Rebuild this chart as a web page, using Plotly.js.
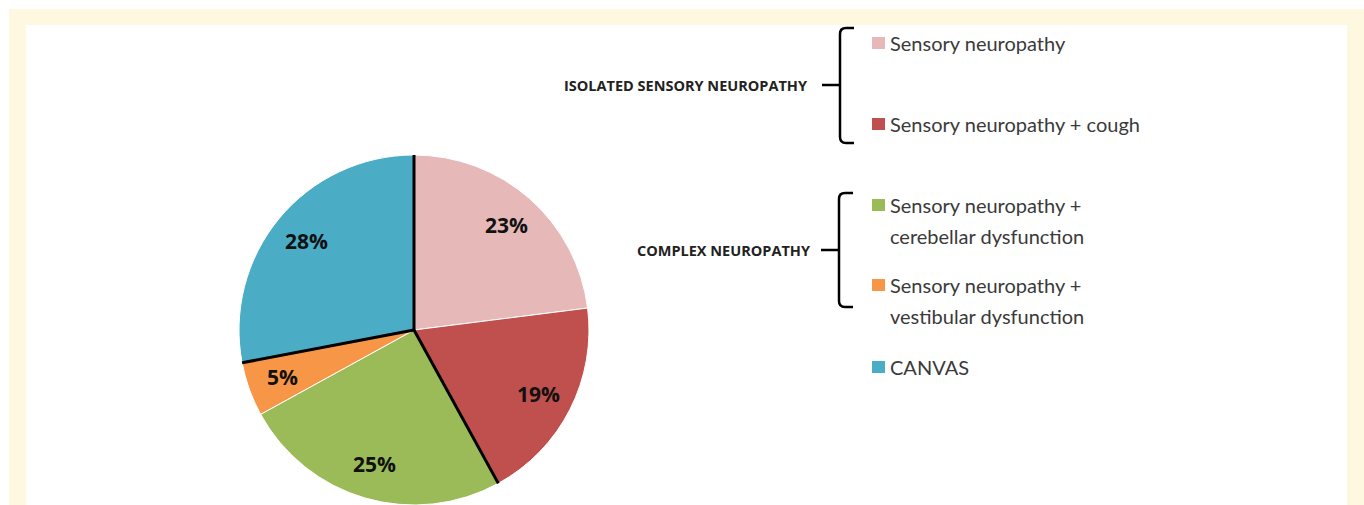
<!DOCTYPE html>
<html>
<head>
<meta charset="utf-8">
<script src="https://cdn.plot.ly/plotly-3.0.1.min.js"></script>
<style>html,body{margin:0;padding:0;background:#fff;}#chart{width:1364px;height:505px;}</style>
</head>
<body>
<div id="chart"></div>
<script>
// ---- data ----
const categories = ["Sensory neuropathy", "Sensory neuropathy + cough", "Sensory neuropathy + cerebellar dysfunction", "Sensory neuropathy + vestibular dysfunction", "CANVAS"];
const values = [23, 19, 25, 5, 28];
const groups = ["ISOLATED SENSORY NEUROPATHY", "ISOLATED SENSORY NEUROPATHY", "COMPLEX NEUROPATHY", "COMPLEX NEUROPATHY", "CANVAS"];
const legendLines = [["Sensory neuropathy"], ["Sensory neuropathy + cough"], ["Sensory neuropathy +", "cerebellar dysfunction"], ["Sensory neuropathy +", "vestibular dysfunction"], ["CANVAS"]];
const groupLabels = ["ISOLATED SENSORY NEUROPATHY", "COMPLEX NEUROPATHY"];
const colors = ["#E6B9B8", "#C0504D", "#9BBB59", "#F79646", "#4BACC6"];

// ---- layout helpers ----
const W = 1364, H = 505;
const CX = 414, CY = 330, R = 175;
const px = x => x / W;
const py = y => 1 - y / H;

const total = values.reduce((a, b) => a + b, 0);

const trace = {
  type: "pie",
  values: values,
  labels: categories,
  sort: false,
  direction: "clockwise",
  rotation: 0,
  textinfo: "none",
  hoverinfo: "label+percent",
  showlegend: false,
  marker: { colors: colors, line: { color: "#ffffff", width: 1 } },
  domain: { x: [px(CX - R), px(CX + R)], y: [py(CY + R), py(CY - R)] }
};

const shapes = [];
const annotations = [];

// yellow frame
shapes.push({ type: "rect", xref: "paper", yref: "paper", x0: px(9), x1: px(1364), y0: py(505), y1: py(9), fillcolor: "#FEF8E0", line: { width: 0 }, layer: "below" });
shapes.push({ type: "rect", xref: "paper", yref: "paper", x0: px(26), x1: px(1347), y0: py(505), y1: py(25), fillcolor: "#ffffff", line: { width: 0 }, layer: "below" });

// separator lines at group boundaries + percentage labels
let cum = 0;
for (let i = 0; i < values.length; i++) {
  const prev = groups[(i - 1 + values.length) % values.length];
  const a0 = cum / total * 2 * Math.PI;
  if (groups[i] !== prev) {
    shapes.push({ type: "line", xref: "paper", yref: "paper",
      x0: px(CX), y0: py(CY), x1: px(CX + R * Math.sin(a0)), y1: py(CY - R * Math.cos(a0)),
      line: { color: "#000000", width: 3 } });
  }
  const mid = (cum + values[i] / 2) / total * 2 * Math.PI;
  const rr = 0.8 * R;
  annotations.push({ xref: "paper", yref: "paper", x: px(CX + rr * Math.sin(mid)), y: py(CY - rr * Math.cos(mid)),
    text: Math.round(values[i] / total * 100) + "%", showarrow: false, xanchor: "center", yanchor: "middle",
    font: { family: "Open Sans", size: 21, color: "#111111", weight: 700 } });
  cum += values[i];
}

// legend (manual)
const legendY = [43, 124, 205, 285, 367];
const lineGap = 31;
for (let i = 0; i < categories.length; i++) {
  const y = legendY[i];
  shapes.push({ type: "rect", xref: "paper", yref: "paper", x0: px(872), x1: px(885), y0: py(y + 6), y1: py(y - 6), fillcolor: colors[i], line: { width: 0 } });
  legendLines[i].forEach((t, k) => {
    annotations.push({ xref: "paper", yref: "paper", x: px(888), y: py(y + k * lineGap), text: t, showarrow: false,
      xanchor: "left", yanchor: "middle", font: { family: "Lato", size: 20, color: "#3a3a3a" } });
  });
}

// brackets and group labels
const brackets = [
  { top: 28, bot: 143, mid: 85, x: 840, label: groupLabels[0], lx: 810 },
  { top: 193, bot: 307, mid: 250, x: 839, label: groupLabels[1], lx: 813 }
];
brackets.forEach(b => {
  const P = (x, y) => px(x) + "," + py(y);
  const path = "M" + P(b.x + 14, b.top) + " L" + P(b.x + 6, b.top) + " Q" + P(b.x, b.top) + " " + P(b.x, b.top + 6) +
    " L" + P(b.x, b.bot - 6) + " Q" + P(b.x, b.bot) + " " + P(b.x + 6, b.bot) + " L" + P(b.x + 14, b.bot) +
    " M" + P(b.x - 18, b.mid) + " L" + P(b.x, b.mid);
  shapes.push({ type: "path", xref: "paper", yref: "paper", path: path, line: { color: "#000000", width: 2.5 } });
  annotations.push({ xref: "paper", yref: "paper", x: px(b.lx), y: py(b.mid), text: b.label, showarrow: false,
    xanchor: "right", yanchor: "middle", font: { family: "Open Sans", size: 14.5, color: "#222222", weight: 700 } });
});

const layout = {
  width: W, height: H,
  margin: { l: 0, r: 0, t: 0, b: 0 },
  paper_bgcolor: "#ffffff",
  plot_bgcolor: "#ffffff",
  shapes: shapes,
  annotations: annotations
};

Plotly.newPlot("chart", [trace], layout, { displayModeBar: false, staticPlot: true });
</script>
</body>
</html>
